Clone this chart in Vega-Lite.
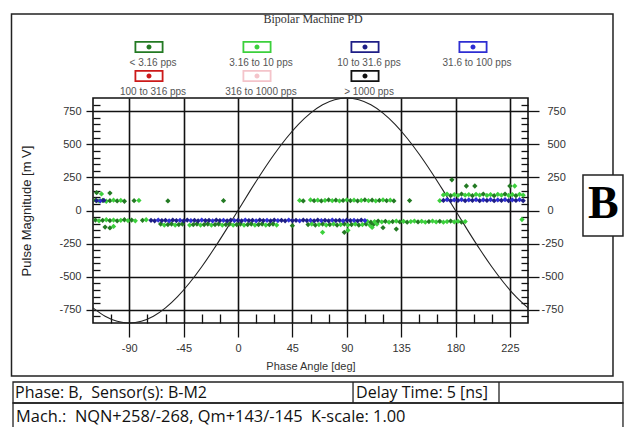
{
"$schema": "https://vega.github.io/schema/vega-lite/v6.json",
"width": 435,
"height": 225,
"autosize": {"type": "none"},
"padding": {"left": 93, "top": 98, "right": 104, "bottom": 104},
"background": "white",
"config": {"view": {"stroke": "#111", "strokeWidth": 1.6}},
"data": {"values": [{}]},
"datasets": {
"wave": [
{"phase":-120,"mV":-736},{"phase":-110,"mV":-799},{"phase":-100,"mV":-837},{"phase":-90,"mV":-850},{"phase":-80,"mV":-837},{"phase":-70,"mV":-799},{"phase":-60,"mV":-736},{"phase":-50,"mV":-651},{"phase":-40,"mV":-546},{"phase":-30,"mV":-425},{"phase":-20,"mV":-291},{"phase":-10,"mV":-148},{"phase":0,"mV":0},{"phase":10,"mV":148},{"phase":20,"mV":291},{"phase":30,"mV":425},{"phase":40,"mV":546},{"phase":50,"mV":651},{"phase":60,"mV":736},{"phase":70,"mV":799},{"phase":80,"mV":837},{"phase":90,"mV":850},{"phase":100,"mV":837},{"phase":110,"mV":799},{"phase":120,"mV":736},{"phase":130,"mV":651},{"phase":140,"mV":546},{"phase":150,"mV":425},{"phase":160,"mV":291},{"phase":170,"mV":148},{"phase":180,"mV":0},{"phase":190,"mV":-148},{"phase":200,"mV":-291},{"phase":210,"mV":-425},{"phase":220,"mV":-546},{"phase":230,"mV":-651},{"phase":240,"mV":-736}
],
"pd": [
{"phase":-118,"mV":-72,"rate":"< 3.16 pps"},{"phase":-115,"mV":-78,"rate":"3.16 to 10 pps"},{"phase":-112,"mV":-74,"rate":"< 3.16 pps"},{"phase":-109,"mV":-70,"rate":"3.16 to 10 pps"},{"phase":-106,"mV":-76,"rate":"< 3.16 pps"},{"phase":-103,"mV":-72,"rate":"3.16 to 10 pps"},{"phase":-100,"mV":-78,"rate":"< 3.16 pps"},{"phase":-97,"mV":-74,"rate":"3.16 to 10 pps"},{"phase":-94,"mV":-70,"rate":"< 3.16 pps"},{"phase":-91,"mV":-76,"rate":"3.16 to 10 pps"},{"phase":-88,"mV":-72,"rate":"< 3.16 pps"},{"phase":-85,"mV":-78,"rate":"3.16 to 10 pps"},{"phase":-79,"mV":-74,"rate":"< 3.16 pps"},{"phase":-76,"mV":-70,"rate":"3.16 to 10 pps"},
{"phase":-110,"mV":-125,"rate":"< 3.16 pps"},{"phase":-106,"mV":-132,"rate":"< 3.16 pps"},{"phase":-103,"mV":-120,"rate":"3.16 to 10 pps"},
{"phase":-118,"mV":78,"rate":"< 3.16 pps"},{"phase":-115,"mV":72,"rate":"3.16 to 10 pps"},{"phase":-112,"mV":76,"rate":"< 3.16 pps"},{"phase":-109,"mV":70,"rate":"3.16 to 10 pps"},{"phase":-106,"mV":74,"rate":"< 3.16 pps"},{"phase":-103,"mV":78,"rate":"3.16 to 10 pps"},{"phase":-100,"mV":72,"rate":"< 3.16 pps"},{"phase":-97,"mV":76,"rate":"3.16 to 10 pps"},{"phase":-94,"mV":70,"rate":"< 3.16 pps"},{"phase":-86,"mV":74,"rate":"< 3.16 pps"},{"phase":-82,"mV":76,"rate":"3.16 to 10 pps"},
{"phase":-117,"mV":135,"rate":"< 3.16 pps"},{"phase":-113,"mV":125,"rate":"3.16 to 10 pps"},{"phase":-106,"mV":132,"rate":"< 3.16 pps"},
{"phase":-58,"mV":72,"rate":"< 3.16 pps"},{"phase":-12,"mV":74,"rate":"< 3.16 pps"},
{"phase":-64,"mV":-102,"rate":"< 3.16 pps"},{"phase":-61,"mV":-110,"rate":"3.16 to 10 pps"},{"phase":-58,"mV":-106,"rate":"< 3.16 pps"},{"phase":-55,"mV":-102,"rate":"< 3.16 pps"},{"phase":-52,"mV":-110,"rate":"3.16 to 10 pps"},{"phase":-49,"mV":-106,"rate":"< 3.16 pps"},{"phase":-46,"mV":-102,"rate":"< 3.16 pps"},
{"phase":-40,"mV":-110,"rate":"3.16 to 10 pps"},{"phase":-37,"mV":-106,"rate":"< 3.16 pps"},{"phase":-34,"mV":-102,"rate":"< 3.16 pps"},{"phase":-31,"mV":-110,"rate":"3.16 to 10 pps"},{"phase":-28,"mV":-106,"rate":"< 3.16 pps"},{"phase":-25,"mV":-102,"rate":"< 3.16 pps"},{"phase":-22,"mV":-110,"rate":"3.16 to 10 pps"},{"phase":-19,"mV":-106,"rate":"< 3.16 pps"},{"phase":-16,"mV":-102,"rate":"< 3.16 pps"},{"phase":-13,"mV":-110,"rate":"3.16 to 10 pps"},{"phase":-10,"mV":-106,"rate":"< 3.16 pps"},{"phase":-7,"mV":-102,"rate":"< 3.16 pps"},{"phase":-4,"mV":-110,"rate":"3.16 to 10 pps"},{"phase":-1,"mV":-106,"rate":"< 3.16 pps"},{"phase":2,"mV":-102,"rate":"< 3.16 pps"},{"phase":5,"mV":-110,"rate":"3.16 to 10 pps"},{"phase":8,"mV":-106,"rate":"< 3.16 pps"},{"phase":11,"mV":-102,"rate":"< 3.16 pps"},{"phase":14,"mV":-110,"rate":"3.16 to 10 pps"},{"phase":17,"mV":-106,"rate":"< 3.16 pps"},{"phase":20,"mV":-102,"rate":"< 3.16 pps"},{"phase":23,"mV":-110,"rate":"3.16 to 10 pps"},{"phase":26,"mV":-106,"rate":"< 3.16 pps"},{"phase":29,"mV":-102,"rate":"< 3.16 pps"},{"phase":32,"mV":-110,"rate":"3.16 to 10 pps"},
{"phase":58,"mV":-106,"rate":"< 3.16 pps"},{"phase":61,"mV":-102,"rate":"3.16 to 10 pps"},{"phase":64,"mV":-110,"rate":"< 3.16 pps"},{"phase":67,"mV":-106,"rate":"3.16 to 10 pps"},{"phase":70,"mV":-102,"rate":"< 3.16 pps"},{"phase":73,"mV":-110,"rate":"3.16 to 10 pps"},{"phase":76,"mV":-106,"rate":"< 3.16 pps"},{"phase":79,"mV":-102,"rate":"3.16 to 10 pps"},{"phase":82,"mV":-110,"rate":"< 3.16 pps"},{"phase":85,"mV":-106,"rate":"3.16 to 10 pps"},{"phase":88,"mV":-102,"rate":"< 3.16 pps"},{"phase":91,"mV":-110,"rate":"3.16 to 10 pps"},{"phase":94,"mV":-106,"rate":"< 3.16 pps"},{"phase":97,"mV":-102,"rate":"3.16 to 10 pps"},{"phase":100,"mV":-110,"rate":"< 3.16 pps"},{"phase":103,"mV":-106,"rate":"3.16 to 10 pps"},{"phase":106,"mV":-102,"rate":"< 3.16 pps"},{"phase":109,"mV":-110,"rate":"3.16 to 10 pps"},{"phase":112,"mV":-106,"rate":"< 3.16 pps"},{"phase":115,"mV":-102,"rate":"3.16 to 10 pps"},
{"phase":45,"mV":-115,"rate":"< 3.16 pps"},{"phase":70,"mV":-165,"rate":"3.16 to 10 pps"},{"phase":88,"mV":-165,"rate":"< 3.16 pps"},{"phase":91,"mV":-150,"rate":"3.16 to 10 pps"},{"phase":111,"mV":-128,"rate":"3.16 to 10 pps"},{"phase":120,"mV":-130,"rate":"< 3.16 pps"},{"phase":131,"mV":-140,"rate":"< 3.16 pps"},
{"phase":107,"mV":-82,"rate":"3.16 to 10 pps"},{"phase":110,"mV":-88,"rate":"< 3.16 pps"},{"phase":113,"mV":-84,"rate":"3.16 to 10 pps"},{"phase":116,"mV":-80,"rate":"< 3.16 pps"},{"phase":119,"mV":-86,"rate":"3.16 to 10 pps"},{"phase":122,"mV":-82,"rate":"< 3.16 pps"},{"phase":125,"mV":-88,"rate":"3.16 to 10 pps"},{"phase":128,"mV":-84,"rate":"< 3.16 pps"},{"phase":131,"mV":-80,"rate":"3.16 to 10 pps"},{"phase":134,"mV":-86,"rate":"< 3.16 pps"},{"phase":137,"mV":-82,"rate":"3.16 to 10 pps"},{"phase":140,"mV":-88,"rate":"< 3.16 pps"},{"phase":143,"mV":-84,"rate":"3.16 to 10 pps"},{"phase":146,"mV":-80,"rate":"3.16 to 10 pps"},{"phase":149,"mV":-86,"rate":"< 3.16 pps"},{"phase":152,"mV":-82,"rate":"3.16 to 10 pps"},{"phase":155,"mV":-88,"rate":"3.16 to 10 pps"},{"phase":158,"mV":-84,"rate":"< 3.16 pps"},{"phase":161,"mV":-80,"rate":"3.16 to 10 pps"},{"phase":164,"mV":-86,"rate":"3.16 to 10 pps"},{"phase":167,"mV":-82,"rate":"< 3.16 pps"},{"phase":170,"mV":-88,"rate":"3.16 to 10 pps"},{"phase":173,"mV":-84,"rate":"3.16 to 10 pps"},{"phase":176,"mV":-80,"rate":"< 3.16 pps"},{"phase":179,"mV":-86,"rate":"3.16 to 10 pps"},{"phase":182,"mV":-82,"rate":"3.16 to 10 pps"},{"phase":185,"mV":-88,"rate":"< 3.16 pps"},{"phase":188,"mV":-84,"rate":"3.16 to 10 pps"},
{"phase":235,"mV":-68,"rate":"3.16 to 10 pps"},
{"phase":51,"mV":76,"rate":"3.16 to 10 pps"},{"phase":54,"mV":72,"rate":"< 3.16 pps"},{"phase":60,"mV":80,"rate":"3.16 to 10 pps"},{"phase":63,"mV":74,"rate":"< 3.16 pps"},{"phase":66,"mV":78,"rate":"3.16 to 10 pps"},{"phase":69,"mV":72,"rate":"< 3.16 pps"},{"phase":72,"mV":76,"rate":"3.16 to 10 pps"},{"phase":75,"mV":80,"rate":"< 3.16 pps"},{"phase":78,"mV":74,"rate":"3.16 to 10 pps"},{"phase":81,"mV":78,"rate":"< 3.16 pps"},{"phase":84,"mV":72,"rate":"3.16 to 10 pps"},{"phase":87,"mV":76,"rate":"< 3.16 pps"},{"phase":90,"mV":80,"rate":"3.16 to 10 pps"},{"phase":93,"mV":74,"rate":"< 3.16 pps"},{"phase":96,"mV":78,"rate":"3.16 to 10 pps"},{"phase":99,"mV":72,"rate":"< 3.16 pps"},{"phase":102,"mV":76,"rate":"3.16 to 10 pps"},{"phase":105,"mV":80,"rate":"< 3.16 pps"},{"phase":108,"mV":74,"rate":"3.16 to 10 pps"},{"phase":111,"mV":78,"rate":"< 3.16 pps"},{"phase":114,"mV":72,"rate":"3.16 to 10 pps"},{"phase":117,"mV":76,"rate":"< 3.16 pps"},{"phase":120,"mV":80,"rate":"3.16 to 10 pps"},{"phase":123,"mV":74,"rate":"< 3.16 pps"},{"phase":126,"mV":78,"rate":"3.16 to 10 pps"},{"phase":129,"mV":72,"rate":"< 3.16 pps"},
{"phase":142,"mV":75,"rate":"< 3.16 pps"},{"phase":167,"mV":74,"rate":"3.16 to 10 pps"},
{"phase":170,"mV":118,"rate":"3.16 to 10 pps"},{"phase":173,"mV":124,"rate":"3.16 to 10 pps"},{"phase":176,"mV":112,"rate":"< 3.16 pps"},{"phase":179,"mV":120,"rate":"3.16 to 10 pps"},{"phase":182,"mV":114,"rate":"3.16 to 10 pps"},{"phase":185,"mV":124,"rate":"< 3.16 pps"},{"phase":188,"mV":116,"rate":"3.16 to 10 pps"},{"phase":191,"mV":120,"rate":"3.16 to 10 pps"},{"phase":194,"mV":112,"rate":"< 3.16 pps"},{"phase":197,"mV":122,"rate":"3.16 to 10 pps"},{"phase":200,"mV":116,"rate":"3.16 to 10 pps"},{"phase":203,"mV":124,"rate":"< 3.16 pps"},{"phase":206,"mV":114,"rate":"3.16 to 10 pps"},{"phase":209,"mV":120,"rate":"3.16 to 10 pps"},{"phase":212,"mV":112,"rate":"< 3.16 pps"},{"phase":215,"mV":122,"rate":"3.16 to 10 pps"},{"phase":218,"mV":116,"rate":"3.16 to 10 pps"},{"phase":221,"mV":124,"rate":"< 3.16 pps"},{"phase":224,"mV":114,"rate":"3.16 to 10 pps"},{"phase":227,"mV":120,"rate":"3.16 to 10 pps"},{"phase":230,"mV":112,"rate":"< 3.16 pps"},{"phase":233,"mV":122,"rate":"3.16 to 10 pps"},{"phase":236,"mV":116,"rate":"3.16 to 10 pps"},
{"phase":177,"mV":232,"rate":"< 3.16 pps"},{"phase":189,"mV":185,"rate":"< 3.16 pps"},{"phase":196,"mV":185,"rate":"< 3.16 pps"},{"phase":225,"mV":185,"rate":"< 3.16 pps"},{"phase":229,"mV":185,"rate":"3.16 to 10 pps"},
{"phase":-72,"mV":-74,"rate":"10 to 31.6 pps"},{"phase":-69,"mV":-78,"rate":"10 to 31.6 pps"},{"phase":-66,"mV":-72,"rate":"31.6 to 100 pps"},{"phase":-63,"mV":-76,"rate":"10 to 31.6 pps"},{"phase":-60,"mV":-74,"rate":"10 to 31.6 pps"},{"phase":-57,"mV":-78,"rate":"31.6 to 100 pps"},{"phase":-54,"mV":-72,"rate":"10 to 31.6 pps"},{"phase":-51,"mV":-76,"rate":"10 to 31.6 pps"},{"phase":-48,"mV":-74,"rate":"31.6 to 100 pps"},{"phase":-45,"mV":-78,"rate":"10 to 31.6 pps"},{"phase":-42,"mV":-72,"rate":"10 to 31.6 pps"},{"phase":-39,"mV":-76,"rate":"31.6 to 100 pps"},{"phase":-36,"mV":-74,"rate":"10 to 31.6 pps"},{"phase":-33,"mV":-78,"rate":"10 to 31.6 pps"},{"phase":-30,"mV":-72,"rate":"31.6 to 100 pps"},{"phase":-27,"mV":-76,"rate":"10 to 31.6 pps"},{"phase":-24,"mV":-74,"rate":"10 to 31.6 pps"},{"phase":-21,"mV":-78,"rate":"31.6 to 100 pps"},{"phase":-18,"mV":-72,"rate":"10 to 31.6 pps"},{"phase":-15,"mV":-76,"rate":"10 to 31.6 pps"},{"phase":-12,"mV":-74,"rate":"31.6 to 100 pps"},{"phase":-9,"mV":-78,"rate":"10 to 31.6 pps"},{"phase":-6,"mV":-72,"rate":"10 to 31.6 pps"},{"phase":-3,"mV":-76,"rate":"31.6 to 100 pps"},{"phase":0,"mV":-74,"rate":"10 to 31.6 pps"},{"phase":3,"mV":-78,"rate":"10 to 31.6 pps"},{"phase":6,"mV":-72,"rate":"31.6 to 100 pps"},{"phase":9,"mV":-76,"rate":"10 to 31.6 pps"},{"phase":12,"mV":-74,"rate":"10 to 31.6 pps"},{"phase":15,"mV":-78,"rate":"31.6 to 100 pps"},{"phase":18,"mV":-72,"rate":"10 to 31.6 pps"},{"phase":21,"mV":-76,"rate":"10 to 31.6 pps"},{"phase":24,"mV":-74,"rate":"31.6 to 100 pps"},{"phase":27,"mV":-78,"rate":"10 to 31.6 pps"},{"phase":30,"mV":-72,"rate":"10 to 31.6 pps"},{"phase":33,"mV":-76,"rate":"31.6 to 100 pps"},{"phase":36,"mV":-74,"rate":"10 to 31.6 pps"},{"phase":39,"mV":-78,"rate":"10 to 31.6 pps"},{"phase":42,"mV":-72,"rate":"31.6 to 100 pps"},{"phase":45,"mV":-76,"rate":"10 to 31.6 pps"},{"phase":48,"mV":-74,"rate":"10 to 31.6 pps"},{"phase":51,"mV":-78,"rate":"31.6 to 100 pps"},{"phase":54,"mV":-72,"rate":"10 to 31.6 pps"},{"phase":57,"mV":-76,"rate":"10 to 31.6 pps"},{"phase":60,"mV":-74,"rate":"31.6 to 100 pps"},{"phase":63,"mV":-78,"rate":"10 to 31.6 pps"},{"phase":66,"mV":-72,"rate":"10 to 31.6 pps"},{"phase":69,"mV":-76,"rate":"31.6 to 100 pps"},{"phase":72,"mV":-74,"rate":"10 to 31.6 pps"},{"phase":75,"mV":-78,"rate":"10 to 31.6 pps"},{"phase":78,"mV":-72,"rate":"31.6 to 100 pps"},{"phase":81,"mV":-76,"rate":"10 to 31.6 pps"},{"phase":84,"mV":-74,"rate":"10 to 31.6 pps"},{"phase":87,"mV":-78,"rate":"31.6 to 100 pps"},{"phase":90,"mV":-72,"rate":"10 to 31.6 pps"},{"phase":93,"mV":-76,"rate":"10 to 31.6 pps"},{"phase":96,"mV":-74,"rate":"31.6 to 100 pps"},{"phase":99,"mV":-78,"rate":"10 to 31.6 pps"},{"phase":102,"mV":-72,"rate":"10 to 31.6 pps"},{"phase":105,"mV":-76,"rate":"31.6 to 100 pps"},
{"phase":-117,"mV":74,"rate":"10 to 31.6 pps"},{"phase":-114,"mV":72,"rate":"31.6 to 100 pps"},{"phase":-111,"mV":76,"rate":"10 to 31.6 pps"},
{"phase":170,"mV":76,"rate":"10 to 31.6 pps"},{"phase":173,"mV":82,"rate":"31.6 to 100 pps"},{"phase":176,"mV":74,"rate":"10 to 31.6 pps"},{"phase":179,"mV":80,"rate":"31.6 to 100 pps"},{"phase":182,"mV":76,"rate":"10 to 31.6 pps"},{"phase":185,"mV":82,"rate":"31.6 to 100 pps"},{"phase":188,"mV":74,"rate":"10 to 31.6 pps"},{"phase":191,"mV":80,"rate":"31.6 to 100 pps"},{"phase":194,"mV":76,"rate":"10 to 31.6 pps"},{"phase":197,"mV":82,"rate":"31.6 to 100 pps"},{"phase":200,"mV":74,"rate":"10 to 31.6 pps"},{"phase":203,"mV":80,"rate":"31.6 to 100 pps"},{"phase":206,"mV":76,"rate":"10 to 31.6 pps"},{"phase":209,"mV":82,"rate":"31.6 to 100 pps"},{"phase":212,"mV":74,"rate":"10 to 31.6 pps"},{"phase":215,"mV":80,"rate":"31.6 to 100 pps"},{"phase":218,"mV":76,"rate":"10 to 31.6 pps"},{"phase":221,"mV":82,"rate":"31.6 to 100 pps"},{"phase":224,"mV":74,"rate":"10 to 31.6 pps"},{"phase":227,"mV":80,"rate":"31.6 to 100 pps"},{"phase":230,"mV":76,"rate":"10 to 31.6 pps"},{"phase":233,"mV":82,"rate":"31.6 to 100 pps"},{"phase":236,"mV":74,"rate":"10 to 31.6 pps"}
]
},
"resolve": {"axis": {"x": "independent", "y": "independent"}},
"layer": [
{
"mark": {"type": "rect", "filled": false, "stroke": "#222", "strokeWidth": 1.5},
"encoding": {
"x": {"datum": -187.45, "type": "quantitative", "scale": {"domain": [-120, 240], "nice": false, "zero": false}, "axis": null},
"x2": {"datum": 310.34},
"y": {"datum": 1484.7, "type": "quantitative", "scale": {"domain": [-850, 850], "nice": false, "zero": false}, "axis": null},
"y2": {"datum": -1250.5}
}
},
{
"mark": {"type": "text", "text": "Bipolar Machine PD", "font": "Liberation Serif", "fontSize": 12, "fill": "#333", "align": "center", "baseline": "middle"},
"encoding": {
"x": {"datum": 62.1, "type": "quantitative", "axis": null},
"y": {"datum": 1447, "type": "quantitative", "axis": null}
}
},
{
"mark": {"type": "rect", "fill": "white", "stroke": "#222", "strokeWidth": 1.5},
"encoding": {
"x": {"datum": 285.5, "type": "quantitative", "axis": null},
"x2": {"datum": 318.6},
"y": {"datum": 268.2, "type": "quantitative", "axis": null},
"y2": {"datum": -192.7}
}
},
{
"mark": {"type": "text", "text": "B", "font": "Liberation Serif", "fontSize": 46, "fontWeight": "bold", "fill": "#000", "align": "center", "baseline": "middle"},
"encoding": {
"x": {"datum": 302.3, "type": "quantitative", "axis": null},
"y": {"datum": 48, "type": "quantitative", "axis": null}
}
},
{
"mark": {"type": "rect", "filled": false, "stroke": "#222", "strokeWidth": 1.3},
"encoding": {
"x": {"datum": -186.2, "type": "quantitative", "axis": null},
"x2": {"datum": 318.6},
"y": {"datum": -1295.8, "type": "quantitative", "axis": null},
"y2": {"datum": -1454.4}
}
},
{
"mark": {"type": "rect", "filled": false, "stroke": "#222", "strokeWidth": 1.3},
"encoding": {
"x": {"datum": -186.2, "type": "quantitative", "axis": null},
"x2": {"datum": 318.6},
"y": {"datum": -1454.4, "type": "quantitative", "axis": null},
"y2": {"datum": -1700}
}
},
{
"mark": {"type": "rule", "stroke": "#222", "strokeWidth": 1.3},
"encoding": {
"x": {"datum": 95.2, "type": "quantitative", "axis": null},
"y": {"datum": -1295.8, "type": "quantitative", "axis": null},
"y2": {"datum": -1454.4}
}
},
{
"mark": {"type": "rule", "stroke": "#222", "strokeWidth": 1.3},
"encoding": {
"x": {"datum": 216.0, "type": "quantitative", "axis": null},
"y": {"datum": -1295.8, "type": "quantitative", "axis": null},
"y2": {"datum": -1454.4}
}
},
{
"mark": {"type": "text", "text": "Phase: B,\u00a0 Sensor(s): B-M2", "font": "Open Sans", "fontSize": 16, "fill": "#111", "align": "left", "baseline": "middle"},
"encoding": {
"x": {"datum": -184.5, "type": "quantitative", "axis": null},
"y": {"datum": -1376, "type": "quantitative", "axis": null}
}
},
{
"mark": {"type": "text", "text": "Delay Time: 5 [ns]", "font": "Open Sans", "fontSize": 16, "fill": "#111", "align": "left", "baseline": "middle"},
"encoding": {
"x": {"datum": 97.7, "type": "quantitative", "axis": null},
"y": {"datum": -1376, "type": "quantitative", "axis": null}
}
},
{
"mark": {"type": "text", "text": "Mach.:\u00a0 NQN+258/-268, Qm+143/-145\u00a0 K-scale: 1.00", "font": "Open Sans", "fontSize": 16.4, "fill": "#111", "align": "left", "baseline": "middle"},
"encoding": {
"x": {"datum": -183.7, "type": "quantitative", "axis": null},
"y": {"datum": -1560, "type": "quantitative", "axis": null}
}
},
{
"data": {"name": "wave"},
"mark": {"type": "line", "stroke": "#222", "strokeWidth": 1.1, "interpolate": "monotone"},
"encoding": {
"x": {"field": "phase", "type": "quantitative", "axis": null},
"y": {"field": "mV", "type": "quantitative", "axis": {
"orient": "right", "values": [-800,-750,-700,-650,-600,-550,-500,-450,-400,-350,-300,-250,-200,-150,-100,-50,0,50,100,150,200,250,300,350,400,450,500,550,600,650,700,750,800],
"grid": false, "domain": false, "tickColor": "#111", "tickWidth": 1.3,
"tickSize": {"condition": {"test": "datum.value % 250 === 0", "value": 11}, "value": -7},
"labelExpr": "datum.value % 250 === 0 ? '' + datum.value : ''",
"labelPadding": {"condition": {"test": "datum.value < 0", "value": 2}, "value": 8},
"labelFont": "Liberation Sans", "labelFontSize": 11, "labelColor": "#333", "labelOverlap": false, "labelFlush": false, "title": null}}
}
},
{
"data": {"name": "pd"},
"mark": {"type": "point", "shape": "diamond", "filled": true, "size": 28, "opacity": 1},
"encoding": {
"x": {"field": "phase", "type": "quantitative", "axis": {
"orient": "bottom", "values": [-105,-90,-75,-60,-45,-30,-15,0,15,30,45,60,75,90,105,120,135,150,165,180,195,210,225],
"grid": true, "gridColor": "#111", "gridWidth": 1.6,
"gridOpacity": {"condition": {"test": "datum.value % 45 === 0", "value": 1}, "value": 0},
"domain": false, "tickColor": "#111", "tickWidth": 1.3,
"tickSize": {"condition": {"test": "datum.value % 45 === 0", "value": 14}, "value": -9},
"labelExpr": "datum.value % 45 === 0 ? '' + datum.value : ''",
"labelPadding": 5, "labelFont": "Liberation Sans", "labelFontSize": 11, "labelColor": "#333", "labelOverlap": false, "labelFlush": false,
"title": "Phase Angle [deg]", "titleFont": "Liberation Sans", "titleFontSize": 11, "titleFontWeight": "normal", "titleColor": "#333", "titlePadding": 7}},
"y": {"field": "mV", "type": "quantitative", "axis": {
"orient": "left", "values": [-800,-750,-700,-650,-600,-550,-500,-450,-400,-350,-300,-250,-200,-150,-100,-50,0,50,100,150,200,250,300,350,400,450,500,550,600,650,700,750,800],
"grid": true, "gridColor": "#111", "gridWidth": 1.6,
"gridOpacity": {"condition": {"test": "datum.value % 250 === 0", "value": 1}, "value": 0},
"domain": false, "tickColor": "#111", "tickWidth": 1.3,
"tickSize": {"condition": {"test": "datum.value % 250 === 0", "value": 7}, "value": -7},
"labelExpr": "datum.value % 250 === 0 ? '' + datum.value : ''",
"labelPadding": 5, "labelFont": "Liberation Sans", "labelFontSize": 11, "labelColor": "#333", "labelOverlap": false, "labelFlush": false,
"title": "Pulse Magnitude [m V]", "titleFont": "Liberation Sans", "titleFontSize": 13, "titleFontWeight": "normal", "titleColor": "#222", "titlePadding": 25}},
"color": {"field": "rate", "type": "nominal",
"scale": {"domain": ["< 3.16 pps", "3.16 to 10 pps", "10 to 31.6 pps", "31.6 to 100 pps", "100 to 316 pps", "316 to 1000 pps", "> 1000 pps"],
"range": ["#237a23", "#3cd03c", "#1e1e86", "#2e2ed2", "#cc1a1a", "#f4c4ca", "#111111"]},
"legend": {"orient": "none", "legendX": 51, "legendY": -40, "columns": 4, "direction": "horizontal", "title": null, "padding": 0,
"symbolType": "M-40,0M40,0M-14.5,-22H14.5V-10H-14.5ZM-12.7,-20.2V-11.8H12.7V-20.2ZM-2.5,-16A2.5,2.5 0 1,0 2.5,-16A2.5,2.5 0 1,0 -2.5,-16Z",
"symbolSize": 4, "symbolStrokeWidth": 0, "symbolOpacity": 1,
"labelAlign": "center", "labelOffset": -1, "labelFont": "Liberation Sans", "labelFontSize": 10, "labelColor": "#555",
"columnPadding": 28, "rowPadding": 2, "gridAlign": "each"}}
}
}
]
}
